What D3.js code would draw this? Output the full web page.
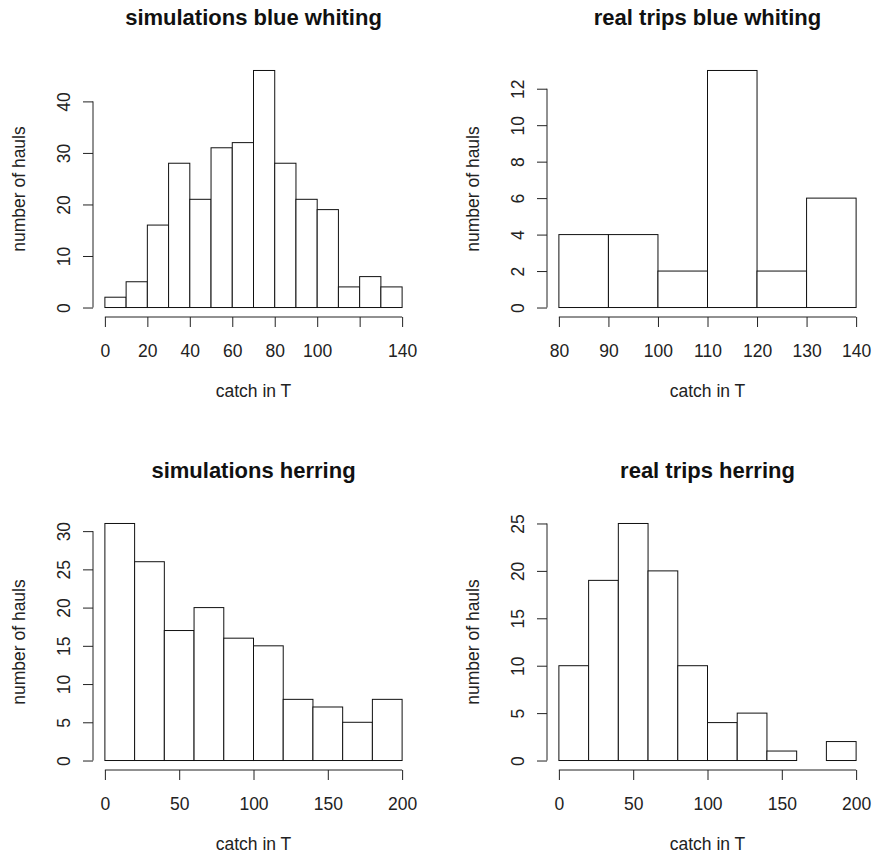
<!DOCTYPE html>
<html>
<head>
<meta charset="utf-8">
<script src="https://cdn.jsdelivr.net/npm/d3@7"></script>
<style>
  body { margin: 0; background: #fff; }
  svg { display: block; font-family: "Liberation Sans", Arial, sans-serif; }
</style>
</head>
<body>
<script>
// histogram data
const bwSimBreaks = [0, 10, 20, 30, 40, 50, 60, 70, 80, 90, 100, 110, 120, 130, 140];
const bwSimCounts = [2, 5, 16, 28, 21, 31, 32, 46, 28, 21, 19, 4, 6, 4];
const bwSimXTicks = [0, 20, 40, 60, 80, 100, 120, 140];
const bwSimXLabels = ["0", "20", "40", "60", "80", "100", "", "140"];
const bwSimYTicks = [0, 10, 20, 30, 40];

const bwRealBreaks = [80, 90, 100, 110, 120, 130, 140];
const bwRealCounts = [4, 4, 2, 13, 2, 6];
const bwRealXTicks = [80, 90, 100, 110, 120, 130, 140];
const bwRealYTicks = [0, 2, 4, 6, 8, 10, 12];

const herBreaks = [0, 20, 40, 60, 80, 100, 120, 140, 160, 180, 200];
const herSimCounts = [31, 26, 17, 20, 16, 15, 8, 7, 5, 8];
const herRealCounts = [10, 19, 25, 20, 10, 4, 5, 1, 0, 2];
const herXTicks = [0, 50, 100, 150, 200];
const herSimYTicks = [0, 5, 10, 15, 20, 25, 30];
const herRealYTicks = [0, 5, 10, 15, 20, 25];

const titles = ["simulations blue whiting", "real trips blue whiting",
                "simulations herring", "real trips herring"];

const width = 872, height = 858;
const colLeft = [93, 547];
const rowTop = [61, 514];
const plotW = 321, plotH = 256;

const svg = d3.select("body").append("svg")
    .attr("width", width)
    .attr("height", height);

function drawHist(col, row, title, breaks, counts, xTicks, xLabels, yTicks) {
    let x0 = colLeft[col], y0 = rowTop[row];
    let xmin = breaks[0], xmax = breaks[breaks.length - 1];
    let xpad = (xmax - xmin) * 0.04;
    let ymax = d3.max(counts);

    let x = d3.scaleLinear()
        .domain([xmin - xpad, xmax + xpad])
        .range([x0, x0 + plotW]);
    let y = d3.scaleLinear()
        .domain([-ymax * 0.04, ymax * 1.04])
        .range([y0 + plotH, y0]);

    let g = svg.append("g");

    let bins = counts.map((c, i) => ({lo: breaks[i], hi: breaks[i + 1], n: c}));
    g.selectAll("rect")
        .data(bins)
        .enter()
        .append("rect")
        .attr("x", d => x(d.lo))
        .attr("y", d => y(d.n))
        .attr("width", d => x(d.hi) - x(d.lo))
        .attr("height", d => y(0) - y(d.n))
        .attr("fill", "#fff")
        .attr("stroke", "#111")
        .attr("stroke-width", 1);

    // x axis
    let xa = g.append("g")
        .attr("transform", "translate(0," + (y0 + plotH) + ")")
        .call(d3.axisBottom(x).tickValues(xTicks).tickSize(10)
            .tickFormat((d, i) => xLabels ? xLabels[i] : String(d)));
    xa.select(".domain").remove();
    xa.append("line")
        .attr("x1", x(xTicks[0]))
        .attr("x2", x(xTicks[xTicks.length - 1]))
        .attr("stroke", "#222");
    xa.selectAll(".tick line").attr("stroke", "#222");
    xa.selectAll("text")
        .attr("y", 40)
        .attr("dy", null)
        .attr("fill", "#222")
        .style("font-size", "17.5px")
        .style("font-family", "Liberation Sans, Arial, sans-serif");

    // y axis
    let ya = g.append("g")
        .attr("transform", "translate(" + x0 + ",0)")
        .call(d3.axisLeft(y).tickValues(yTicks).tickSize(10).tickFormat(d3.format("d")));
    ya.select(".domain").remove();
    ya.append("line")
        .attr("y1", y(yTicks[0]))
        .attr("y2", y(yTicks[yTicks.length - 1]))
        .attr("stroke", "#222");
    ya.selectAll(".tick line").attr("stroke", "#222");
    ya.selectAll("text")
        .attr("x", 0)
        .attr("dy", null)
        .attr("transform", "translate(-23,0) rotate(-90)")
        .attr("text-anchor", "middle")
        .attr("fill", "#222")
        .style("font-size", "17.5px")
        .style("font-family", "Liberation Sans, Arial, sans-serif");

    // titles and labels
    let cx = x0 + plotW / 2;
    g.append("text")
        .attr("x", cx)
        .attr("y", y0 - 36)
        .attr("text-anchor", "middle")
        .style("font-size", "22px")
        .style("font-weight", "bold")
        .attr("fill", "#111")
        .text(title);
    g.append("text")
        .attr("x", cx)
        .attr("y", y0 + plotH + 80)
        .attr("text-anchor", "middle")
        .style("font-size", "17.5px")
        .attr("fill", "#222")
        .text("catch in T");
    g.append("text")
        .attr("transform", "translate(" + (x0 - 68) + "," + (y0 + plotH / 2) + ") rotate(-90)")
        .attr("text-anchor", "middle")
        .style("font-size", "17.5px")
        .attr("fill", "#222")
        .text("number of hauls");
}

drawHist(0, 0, titles[0], bwSimBreaks, bwSimCounts, bwSimXTicks, bwSimXLabels, bwSimYTicks);
drawHist(1, 0, titles[1], bwRealBreaks, bwRealCounts, bwRealXTicks, null, bwRealYTicks);
drawHist(0, 1, titles[2], herBreaks, herSimCounts, herXTicks, null, herSimYTicks);
drawHist(1, 1, titles[3], herBreaks, herRealCounts, herXTicks, null, herRealYTicks);
</script>
</body>
</html>
